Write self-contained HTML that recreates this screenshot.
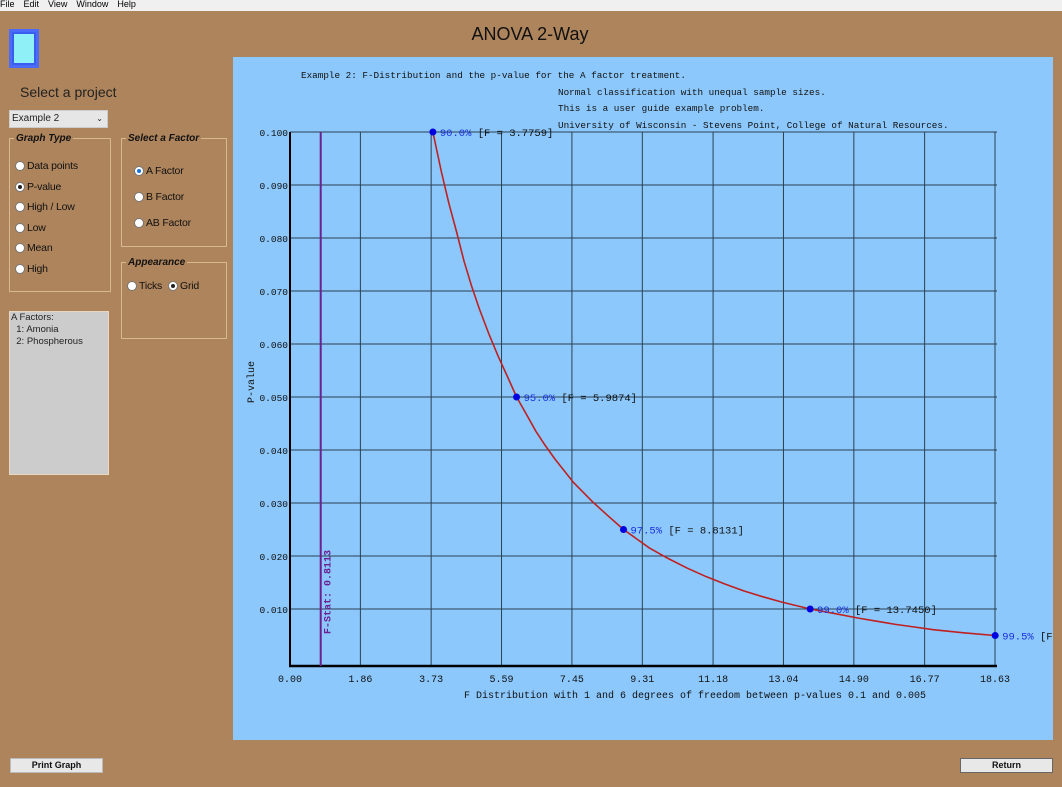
<!DOCTYPE html>
<html><head><meta charset="utf-8">
<style>
body{margin:0;width:1062px;height:787px;overflow:hidden;background:#ae845c;font-family:"Liberation Sans",sans-serif;position:relative}
.abs{position:absolute}
.menu{left:0;top:0;width:1062px;height:11px;background:#f0f0f0;font-size:9px;line-height:9px;color:#000}
.menu span{margin-right:9px}
fieldset{position:absolute;border:1px solid #d8b890;margin:0;padding:0}
legend{font-size:10px;font-style:italic;font-weight:bold;color:#111;padding:0 2px;margin-left:4px}
.r{position:absolute;font-size:10.5px;color:#111;display:flex;align-items:center;letter-spacing:-0.2px}
.rb{width:10px;height:10px;border-radius:50%;background:#fff;border:1px solid #777;box-sizing:border-box;margin-right:2px;position:relative}
.rb.on::after{content:"";position:absolute;left:2px;top:2px;width:4px;height:4px;border-radius:50%;background:#222}
.rb.blue::after{background:#1a6fd6}
.btn{position:absolute;background:#e8e8e8;border:1px solid #bbb;font-size:9px;font-weight:bold;text-align:center;line-height:12px;color:#111}
</style></head><body>
<div class="abs menu"><span>File</span><span>Edit</span><span>View</span><span>Window</span><span>Help</span></div>
<div class="abs" style="left:9px;top:29px;width:30px;height:39px;background:#3a5cf0;box-sizing:border-box;border:3px solid #4a6cf8"><div style="margin:2px;height:29px;background:#8ff0f8"></div></div>
<div class="abs" style="left:430px;top:24px;width:200px;text-align:center;font-size:18px;color:#111">ANOVA 2-Way</div>
<div class="abs" style="left:20px;top:84px;font-size:14px;color:#222">Select a project</div>
<div class="abs" style="left:9px;top:110px;width:99px;height:18px;background:#e6e6e6;border:1px solid #ccc;box-sizing:border-box;font-size:10px;line-height:16px;padding-left:2px;color:#222">Example 2<span style="position:absolute;right:4px;font-size:8px">⌄</span></div>
<fieldset style="left:9px;top:133px;width:100px;height:157px"><legend>Graph Type</legend></fieldset>
<div class="r" style="left:15px;top:160px"><span class="rb"></span>Data points</div>
<div class="r" style="left:15px;top:181px"><span class="rb on"></span>P-value</div>
<div class="r" style="left:15px;top:201px"><span class="rb"></span>High / Low</div>
<div class="r" style="left:15px;top:222px"><span class="rb"></span>Low</div>
<div class="r" style="left:15px;top:242px"><span class="rb"></span>Mean</div>
<div class="r" style="left:15px;top:263px"><span class="rb"></span>High</div>
<fieldset style="left:121px;top:133px;width:104px;height:112px"><legend>Select a Factor</legend></fieldset>
<div class="r" style="left:134px;top:165px"><span class="rb on blue"></span>A Factor</div>
<div class="r" style="left:134px;top:191px"><span class="rb"></span>B Factor</div>
<div class="r" style="left:134px;top:217px"><span class="rb"></span>AB Factor</div>
<fieldset style="left:121px;top:257px;width:104px;height:80px"><legend>Appearance</legend></fieldset>
<div class="r" style="left:127px;top:280px"><span class="rb"></span>Ticks</div>
<div class="r" style="left:168px;top:280px"><span class="rb on"></span>Grid</div>
<div class="abs" style="left:9px;top:311px;width:100px;height:164px;background:#cccccc;border:1px solid #e8d8c0;box-sizing:border-box;font-size:9.5px;line-height:12px;color:#222;padding-left:1px">A Factors:<br>&nbsp;&nbsp;1: Amonia<br>&nbsp;&nbsp;2: Phospherous</div>
<div class="btn" style="left:10px;top:758px;width:91px;height:13px">Print Graph</div>
<div class="btn" style="left:960px;top:758px;width:91px;height:13px;border-color:#666">Return</div>

<svg class="abs" style="left:0;top:0" width="1062" height="787" font-family="'Liberation Mono','DejaVu Sans Mono',monospace">
<rect x="233" y="57" width="820" height="683" fill="#8cc8fc"/>
<g font-size="9.3" fill="#111">
<text x="301" y="78">Example 2: F-Distribution and the p-value for the A factor treatment.</text>
<text x="558" y="95">Normal classification with unequal sample sizes.</text>
<text x="558" y="111">This is a user guide example problem.</text>
<text x="558" y="128">University of Wisconsin - Stevens Point, College of Natural Resources.</text>
</g>
<g id="grid"></g><g id="marks"></g>
</svg>
<script>
const xTicks=["0.00","1.86","3.73","5.59","7.45","9.31","11.18","13.04","14.90","16.77","18.63"];
const yTicks=[0.010,0.020,0.030,0.040,0.050,0.060,0.070,0.080,0.090,0.100];
const critF=[3.7759,5.9874,8.8131,13.7450,18.635];
const critP=[0.100,0.050,0.025,0.010,0.005];
const critLabel=["90.0%","95.0%","97.5%","99.0%","99.5%"];
const curveF=[3.7759,4.0,4.2,4.4,4.6,4.8,5.0,5.25,5.5,5.75,5.9874,6.25,6.5,6.75,7.0,7.5,8.0,8.4,8.8131,9.5,10.0,10.5,11.0,11.5,12.0,12.5,13.0,13.745,14.5,15.0,15.5,16.0,16.5,17.0,17.8,18.635];
const curveP=[0.100,0.0925,0.0865,0.0812,0.0756,0.0709,0.0667,0.0620,0.0577,0.0538,0.0500,0.0467,0.0435,0.0408,0.0383,0.0338,0.0302,0.0276,0.0250,0.0215,0.0195,0.0177,0.0161,0.0147,0.0134,0.0123,0.0113,0.0100,0.0090,0.0083,0.0077,0.0071,0.0066,0.0061,0.0055,0.0050];
const fStat=0.8113;
const xMax=18.63;
const NS='http://www.w3.org/2000/svg';
const X0=290,X1=995,Y0=662,Y1=132;
function sx(v){return X0+v/xMax*(X1-X0);}
function sy(v){return Y0-v/0.1*(Y0-Y1);}
function mk(t,a,p){const e=document.createElementNS(NS,t);for(const k in a)e.setAttribute(k,a[k]);(p||document.getElementById('marks')).appendChild(e);return e;}
const g=document.getElementById('grid');
xTicks.forEach((t,i)=>{const x=sx(parseFloat(t));
 if(i>0){const l=mk('line',{x1:x,y1:Y1,x2:x,y2:666,stroke:'#2a4050','stroke-width':1},g);
 }
 const tx=mk('text',{x:x,y:682,'text-anchor':'middle','font-size':10,fill:'#111'},g);tx.textContent=t;
 });
yTicks.forEach(v=>{const y=sy(v);
 const l=mk('line',{x1:X0,y1:y,x2:997,y2:y,stroke:'#2a4050','stroke-width':1},g);
 
 const tx=mk('text',{x:288,y:y+4,'text-anchor':'end','font-size':9.5,fill:'#111'},g);tx.textContent=v.toFixed(3);
 });
let a=mk('line',{x1:X0,y1:Y1,x2:X0,y2:667,stroke:'#000','stroke-width':2},g);

a=mk('line',{x1:X0-1,y1:666,x2:997,y2:666,stroke:'#000','stroke-width':2.5},g);

let t=mk('text',{x:0,y:0,'font-size':10,fill:'#111','text-anchor':'middle',transform:'translate(254,382) rotate(-90)'},g);t.textContent='P-value';

t=mk('text',{x:695,y:698,'font-size':10,fill:'#111','text-anchor':'middle'},g);t.textContent='F Distribution with 1 and 6 degrees of freedom between p-values 0.1 and 0.005';

const fx=sx(fStat);
a=mk('line',{x1:fx,y1:Y1,x2:fx,y2:666,stroke:'#6a2090','stroke-width':2});

t=mk('text',{x:0,y:0,'font-size':10,'font-weight':'bold',fill:'#6a2090',transform:`translate(${fx+10},634) rotate(-90)`});t.textContent='F-Stat: '+fStat.toFixed(4);

const c=mk('polyline',{points:curveF.map((f,i)=>sx(f)+','+sy(curveP[i])).join(' '),fill:'none',stroke:'#c02020','stroke-width':1.6,'stroke-linejoin':'round'});

critF.forEach((f,i)=>{const x=sx(f),y=sy(critP[i]);
 const d=mk('circle',{cx:x,cy:y,r:3.5,fill:'#0000e0'});
 
 const tx=mk('text',{x:x+7,y:y+4,'font-size':10.5,fill:'#1a30e0'});
 
 tx.appendChild(document.createTextNode(critLabel[i]+' '));
 const s=document.createElementNS(NS,'tspan');s.setAttribute('fill','#111');s.textContent='[F = '+f.toFixed(4)+']';tx.appendChild(s);});
const cp=mk('clipPath',{id:'cp'},document.querySelector('svg'));mk('rect',{x:233,y:57,width:820,height:683},cp);
document.getElementById('marks').setAttribute('clip-path','url(#cp)');
</script>
</body></html>
